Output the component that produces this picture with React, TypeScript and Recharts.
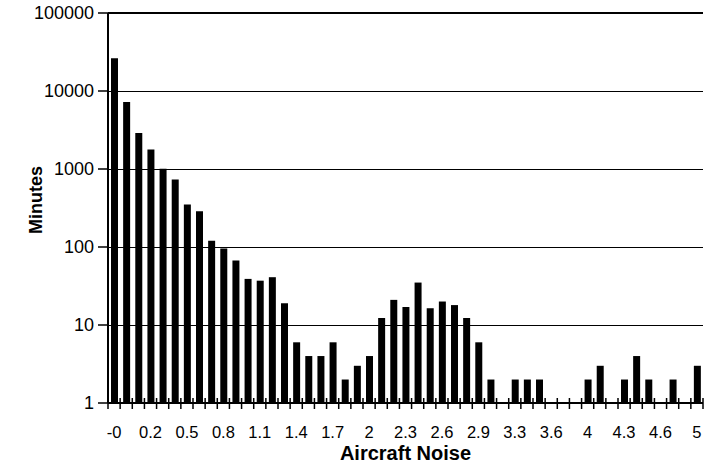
import { BarChart, Bar, XAxis, YAxis, CartesianGrid, ReferenceLine, Label } from 'recharts'

// one category per bar, only every third label is printed
const noiseLabels = [
  '-0', '0.05', '0.1', '0.2', '0.3', '0.4', '0.5', '0.6', '0.7', '0.8',
  '0.9', '1', '1.1', '1.2', '1.3', '1.4', '1.5', '1.6', '1.7', '1.8',
  '1.9', '2', '2.1', '2.2', '2.3', '2.4', '2.5', '2.6', '2.7', '2.8',
  '2.9', '3', '3.1', '3.3', '3.4', '3.5', '3.6', '3.7', '3.8', '4',
  '4.1', '4.2', '4.3', '4.4', '4.5', '4.6', '4.7', '4.8', '5',
]

const minutes: (number | null)[] = [
  26300, 7250, 2900, 1780, 1010, 735, 350, 287, 120, 96,
  67, 39, 37, 41, 19, 6, 4, 4, 6, 2,
  3, 4, 12.3, 21, 17, 35, 16.4, 20, 18, 12.3,
  6, 2, null, 2, 2, 2, null, null, null, 2,
  3, null, 2, 4, 2, null, 2, null, 3,
]

const yTicks = [1, 10, 100, 1000, 10000, 100000]

const data = noiseLabels.map((label, i) => ({ label, minutes: minutes[i] }))

const W = 710
const H = 465
const M = { top: 13, right: 7, bottom: 7, left: 48 }
const Y_AXIS_W = 60
const PLOT_W = W - M.left - M.right - Y_AXIS_W
const FONT = '"Liberation Sans", Arial, sans-serif'

function NoiseTick(props: any) {
  const { x, y, payload, index } = props
  const band = PLOT_W / noiseLabels.length
  return (
    <g>
      <line x1={x - band / 2} x2={x - band / 2} y1={y - 5} y2={y + 6} stroke="#000" strokeWidth={1.5} />
      {index === noiseLabels.length - 1 && (
        <line x1={x + band / 2} x2={x + band / 2} y1={y - 5} y2={y + 6} stroke="#000" strokeWidth={1.5} />
      )}
      {index % 3 === 0 && (
        <text x={x} y={y + 35} textAnchor="middle" fontSize={16.5} fontFamily={FONT} fill="#000">
          {payload.value}
        </text>
      )}
    </g>
  )
}

export default function App() {
  return (
    <div style={{ position: 'absolute', left: 0, top: 0, background: '#fff' }}>
      <BarChart width={W} height={H} data={data} margin={M} barSize={7}>
        <CartesianGrid vertical={false} stroke="#000" strokeWidth={1} shapeRendering="crispEdges" />
        <XAxis
          dataKey="label"
          interval={0}
          height={55}
          tickSize={0}
          tickMargin={0}
          tickLine={false}
          tick={<NoiseTick />}
          axisLine={{ stroke: '#000', strokeWidth: 2 }}
        >
          <Label
            value="Aircraft Noise"
            position="insideBottom"
            offset={-2}
            fontSize={20}
            fontWeight="bold"
            fontFamily={FONT}
            fill="#000"
          />
        </XAxis>
        <YAxis
          scale="log"
          domain={[1, 100000]}
          ticks={yTicks}
          allowDataOverflow
          width={Y_AXIS_W}
          tickSize={10}
          tickMargin={4}
          tick={{ fontSize: 18, fontFamily: FONT, fill: '#000' }}
          tickLine={{ stroke: '#000', strokeWidth: 1.5 }}
          axisLine={{ stroke: '#000', strokeWidth: 2 }}
        >
          <Label
            content={() => (
              <text
                x={36}
                y={200}
                transform="rotate(-90 36 200)"
                textAnchor="middle"
                dominantBaseline="central"
                fontSize={18}
                fontWeight="bold"
                fontFamily={FONT}
                fill="#000"
              >
                Minutes
              </text>
            )}
          />
        </YAxis>
        <YAxis
          yAxisId="right"
          orientation="right"
          width={0}
          tick={false}
          tickLine={false}
          axisLine={{ stroke: '#000', strokeWidth: 2 }}
        />
        <ReferenceLine y={100000} stroke="#000" strokeWidth={2} />
        <Bar dataKey="minutes" fill="#000" barSize={7} isAnimationActive={false} />
      </BarChart>
    </div>
  )
}
